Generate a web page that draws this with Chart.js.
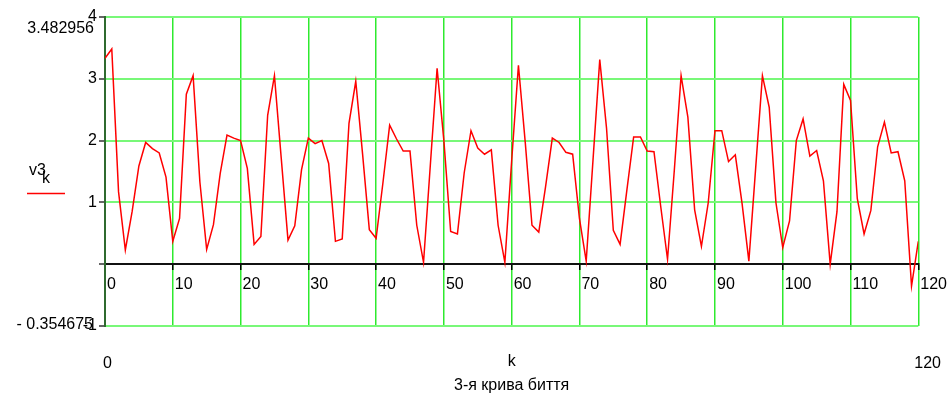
<!DOCTYPE html>
<html>
<head>
<meta charset="utf-8">
<script src="https://cdn.jsdelivr.net/npm/chart.js@4/dist/chart.umd.min.js"></script>
<style>
  html, body { margin: 0; padding: 0; background: #ffffff; }
  #wrap { width: 951px; height: 397px; }
</style>
</head>
<body>
<div id="wrap"><canvas id="c" width="951" height="397"></canvas></div>
<script>
// index k of the samples
const kValues = [
  0, 1, 2, 3, 4, 5, 6, 7, 8, 9,
  10, 11, 12, 13, 14, 15, 16, 17, 18, 19,
  20, 21, 22, 23, 24, 25, 26, 27, 28, 29,
  30, 31, 32, 33, 34, 35, 36, 37, 38, 39,
  40, 41, 42, 43, 44, 45, 46, 47, 48, 49,
  50, 51, 52, 53, 54, 55, 56, 57, 58, 59,
  60, 61, 62, 63, 64, 65, 66, 67, 68, 69,
  70, 71, 72, 73, 74, 75, 76, 77, 78, 79,
  80, 81, 82, 83, 84, 85, 86, 87, 88, 89,
  90, 91, 92, 93, 94, 95, 96, 97, 98, 99,
  100, 101, 102, 103, 104, 105, 106, 107, 108, 109,
  110, 111, 112, 113, 114, 115, 116, 117, 118, 119,
  120
];

// v3_k : third beat curve
const v3 = [
  3.33, 3.482956, 1.17, 0.23, 0.85, 1.59, 1.97, 1.87, 1.80, 1.41,
  0.37, 0.74, 2.75, 3.05, 1.33, 0.24, 0.64, 1.47, 2.09, 2.04,
  2.00, 1.55, 0.32, 0.45, 2.41, 3.05, 1.72, 0.39, 0.62, 1.53,
  2.04, 1.95, 2.00, 1.63, 0.37, 0.41, 2.28, 2.96, 1.79, 0.56,
  0.42, 1.31, 2.25, 2.03, 1.83, 1.83, 0.63, 0.03, 1.60, 3.17,
  2.00, 0.53, 0.49, 1.48, 2.16, 1.88, 1.78, 1.85, 0.63, 0.03,
  1.67, 3.22, 1.98, 0.63, 0.52, 1.25, 2.04, 1.97, 1.81, 1.78,
  0.74, 0.05, 1.68, 3.31, 2.20, 0.55, 0.32, 1.20, 2.06, 2.06,
  1.83, 1.82, 0.93, 0.08, 1.52, 3.05, 2.38, 0.88, 0.29, 0.99,
  2.16, 2.16, 1.66, 1.77, 0.98, 0.05, 1.55, 3.05, 2.54, 0.99,
  0.27, 0.70, 2.00, 2.35, 1.75, 1.84, 1.35, 0.00, 0.85, 2.91,
  2.65, 1.06, 0.49, 0.87, 1.90, 2.30, 1.80, 1.82, 1.35, -0.354675,
  0.37
];

// axis ranges and tick steps
const xRange = [0, 120];
const xStep = 10;
const yRange = [-1, 4];
const yStep = 1;

const seriesName = 'v3';
const seriesIndexName = 'k';
const xAxisName = 'k';
const chartTitle = '3-я крива биття';

const FONT = '"Liberation Sans", Arial, sans-serif';

const yMaxMarker = Math.max(...v3);
const yMinMarker = Math.min(...v3);

// marker values, range limits, axis name, title and legend
const annotations = {
  id: 'annotations',
  afterDraw(chart) {
    const ctx = chart.ctx;
    const xs = chart.scales.x, ys = chart.scales.y;
    const area = chart.chartArea;
    ctx.save();
    ctx.fillStyle = '#000000';
    ctx.font = '16px ' + FONT;
    ctx.textBaseline = 'middle';

    // data extremes beside the y axis
    ctx.textAlign = 'right';
    ctx.fillText(yMaxMarker.toFixed(6), area.left - 11, ys.getPixelForValue(yRange[1]) + 12);
    ctx.fillText('- ' + Math.abs(yMinMarker).toFixed(6), area.left - 12, ys.getPixelForValue(yRange[0]) - 1);

    // x range limits and axis name
    const rowY = area.bottom + 38;
    ctx.textAlign = 'left';
    ctx.fillText(String(xRange[0]), xs.getPixelForValue(xRange[0]) - 2, rowY);
    ctx.fillText(String(xRange[1]), xs.getPixelForValue(xRange[1]) - 4, rowY);
    ctx.textAlign = 'center';
    const midX = (area.left + area.right) / 2;
    ctx.fillText(xAxisName, midX, rowY - 2);

    // title
    ctx.fillText(chartTitle, midX, area.bottom + 60);

    // legend
    ctx.textAlign = 'left';
    ctx.fillText(seriesName, 29, 171);
    ctx.fillText(seriesIndexName, 42, 179);
    ctx.strokeStyle = '#ff0000';
    ctx.lineWidth = 1.5;
    ctx.beginPath();
    ctx.moveTo(27, 193.5);
    ctx.lineTo(65, 193.5);
    ctx.stroke();
    ctx.restore();
  }
};

new Chart(document.getElementById('c'), {
  type: 'line',
  data: {
    datasets: [{
      label: seriesName,
      data: v3.map((v, i) => ({ x: kValues[i], y: v })),
      borderColor: '#ff0000',
      borderWidth: 1.5,
      pointRadius: 0,
      tension: 0,
      fill: false
    }]
  },
  options: {
    responsive: false,
    devicePixelRatio: 1,
    animation: false,
    layout: { padding: { left: 0, top: 17, right: 31, bottom: 71 } },
    plugins: {
      legend: { display: false },
      tooltip: { enabled: false },
      title: { display: false }
    },
    scales: {
      x: {
        type: 'linear',
        position: { y: 0 },
        min: xRange[0],
        max: xRange[1],
        ticks: {
          stepSize: xStep,
          align: 'start',
          labelOffset: 2,
          padding: 6,
          color: '#000000',
          font: { family: FONT, size: 16 },
          maxRotation: 0
        },
        grid: {
          color: '#2eea2e',
          lineWidth: 1.5,
          drawTicks: true,
          tickLength: 5,
          tickColor: '#000000',
          tickWidth: 1.5
        },
        border: { display: true, color: '#111111', width: 2 }
      },
      y: {
        type: 'linear',
        min: yRange[0],
        max: yRange[1],
        afterFit(scale) { scale.width = 105; },
        ticks: {
          stepSize: yStep,
          padding: 2,
          color: '#000000',
          font: { family: FONT, size: 16 },
          callback: (v) => (v === 0 ? '' : String(v))
        },
        grid: {
          color: '#78f878',
          lineWidth: 2,
          drawTicks: true,
          tickLength: 6,
          tickColor: '#333333',
          tickWidth: 1.5
        },
        border: { display: true, color: '#2f6a2f', width: 2 }
      }
    }
  },
  plugins: [annotations]
});
</script>
</body>
</html>
